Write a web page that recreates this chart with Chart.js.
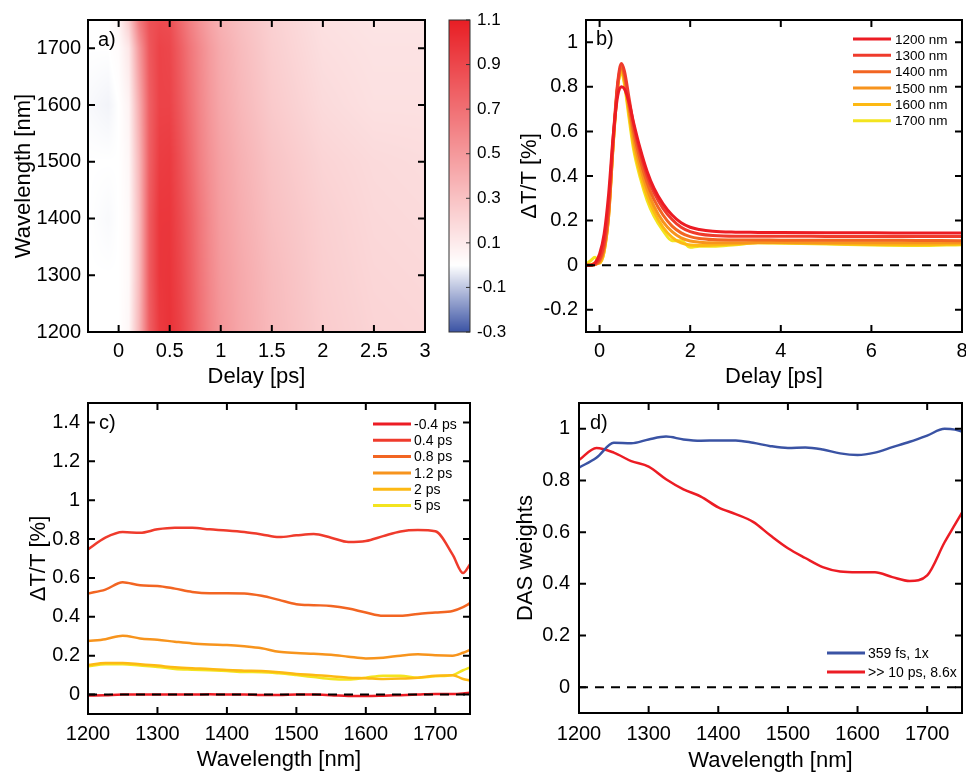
<!DOCTYPE html>
<html>
<head>
<meta charset="utf-8">
<script src="https://cdn.jsdelivr.net/npm/chart.js@4.4.1/dist/chart.umd.min.js"></script>
<style>
  body { margin: 0; background: #fff; width: 966px; height: 774px; overflow: hidden; position: relative; }
  .box { position: absolute; }
</style>
</head>
<body>
<div class="box" style="left:0;top:0;width:440px;height:390px"><canvas id="chartA"></canvas></div>
<div class="box" style="left:440px;top:0;width:80px;height:390px"><canvas id="chartBar"></canvas></div>
<div class="box" style="left:483px;top:0;width:483px;height:390px"><canvas id="chartB"></canvas></div>
<div class="box" style="left:0;top:390px;width:483px;height:384px"><canvas id="chartC"></canvas></div>
<div class="box" style="left:483px;top:390px;width:483px;height:384px"><canvas id="chartD"></canvas></div>
<script>
// ---------- a) map, delay x wavelength ----------
const hmDelay = [-0.3, -0.1, 0, 0.1, 0.2, 0.3, 0.4, 0.5, 0.6, 0.7, 0.8, 0.9, 1.0, 1.2, 1.5, 2.0, 2.5, 3.0];
const hmWave = [1200, 1300, 1400, 1500, 1600, 1700, 1750];
const hmValues = [
  [0, 0, 0, 0.04, 0.35, 0.78, 0.96, 1.0, 0.93, 0.82, 0.7, 0.6, 0.52, 0.43, 0.34, 0.25, 0.21, 0.2],
  [0, 0, 0, 0.03, 0.33, 0.8, 0.98, 0.99, 0.91, 0.8, 0.68, 0.58, 0.5, 0.42, 0.33, 0.24, 0.2, 0.19],
  [0, -0.01, 0, 0.03, 0.33, 0.8, 0.98, 0.98, 0.89, 0.78, 0.66, 0.56, 0.48, 0.4, 0.31, 0.23, 0.19, 0.18],
  [0, 0, 0, 0.04, 0.35, 0.78, 0.95, 0.96, 0.86, 0.74, 0.62, 0.53, 0.46, 0.38, 0.29, 0.21, 0.18, 0.17],
  [-0.01, -0.02, 0, 0.06, 0.4, 0.78, 0.92, 0.92, 0.82, 0.7, 0.59, 0.5, 0.43, 0.35, 0.26, 0.18, 0.15, 0.15],
  [0, 0, 0.02, 0.12, 0.5, 0.82, 0.92, 0.9, 0.79, 0.67, 0.57, 0.48, 0.41, 0.33, 0.24, 0.16, 0.14, 0.14],
  [0, 0, 0.05, 0.25, 0.65, 0.85, 0.88, 0.87, 0.74, 0.62, 0.52, 0.44, 0.38, 0.31, 0.23, 0.15, 0.13, 0.13]
];
const aDelayTicks = [0, 0.5, 1, 1.5, 2, 2.5, 3];
const aWaveTicks = [1200, 1300, 1400, 1500, 1600, 1700];
const barTicks = [-0.3, -0.1, 0.1, 0.3, 0.5, 0.7, 0.9, 1.1];

// ---------- b) kinetics ----------
const bLabels = ['1200 nm', '1300 nm', '1400 nm', '1500 nm', '1600 nm', '1700 nm'];
const bDelay = [-0.3, -0.2, -0.1, 0, 0.1, 0.2, 0.3, 0.4, 0.48, 0.55, 0.65, 0.75, 0.9, 1.05, 1.2, 1.4, 1.6, 1.8, 2.0, 2.2, 2.5, 3, 3.5, 4, 5, 6, 7, 8];
const b1200 = [0, 0, 0.01, 0.05, 0.14, 0.32, 0.58, 0.76, 0.80, 0.79, 0.73, 0.64, 0.52, 0.42, 0.345, 0.275, 0.225, 0.19, 0.17, 0.16, 0.152, 0.148, 0.147, 0.146, 0.145, 0.145, 0.144, 0.144];
const b1300 = [0, 0, 0.005, 0.03, 0.10, 0.27, 0.57, 0.82, 0.905, 0.87, 0.75, 0.63, 0.5, 0.4, 0.325, 0.255, 0.205, 0.17, 0.15, 0.14, 0.133, 0.13, 0.13, 0.13, 0.129, 0.128, 0.128, 0.128];
const b1400 = [0, 0, 0.003, 0.02, 0.08, 0.24, 0.55, 0.81, 0.895, 0.85, 0.72, 0.6, 0.47, 0.37, 0.295, 0.225, 0.175, 0.145, 0.128, 0.12, 0.115, 0.113, 0.113, 0.112, 0.112, 0.112, 0.111, 0.11];
const b1500 = [0, 0, 0.003, 0.015, 0.07, 0.22, 0.54, 0.80, 0.885, 0.84, 0.70, 0.57, 0.44, 0.34, 0.265, 0.195, 0.15, 0.122, 0.108, 0.103, 0.1, 0.1, 0.102, 0.102, 0.1, 0.1, 0.1, 0.1];
const b1600 = [0, 0, 0.01, 0.01, 0.06, 0.22, 0.54, 0.80, 0.875, 0.82, 0.68, 0.54, 0.41, 0.31, 0.24, 0.17, 0.125, 0.1, 0.09, 0.088, 0.09, 0.095, 0.1, 0.1, 0.097, 0.093, 0.092, 0.095];
const b1700 = [0.005, 0.02, 0.035, 0.01, 0.06, 0.23, 0.55, 0.80, 0.865, 0.81, 0.66, 0.52, 0.39, 0.29, 0.22, 0.155, 0.11, 0.11, 0.08, 0.085, 0.085, 0.092, 0.1, 0.098, 0.095, 0.09, 0.088, 0.092];
const bDelayTicks = [0, 2, 4, 6, 8];
const bTicks = [-0.2, 0, 0.2, 0.4, 0.6, 0.8, 1];

// ---------- c) spectra ----------
const cLabels = ['-0.4 ps', '0.4 ps', '0.8 ps', '1.2 ps', '2 ps', '5 ps'];
const cWave = [1200, 1225, 1250, 1275, 1300, 1325, 1350, 1375, 1400, 1425, 1450, 1475, 1500, 1525, 1550, 1575, 1600, 1625, 1650, 1675, 1700, 1725, 1740, 1750];
const cM04 = [-0.005, -0.003, 0, 0, 0, 0, 0, 0.001, 0, 0, -0.002, -0.002, 0, 0, -0.003, -0.007, -0.008, -0.006, -0.003, 0, 0.003, 0.003, 0.006, 0.01];
const c04 = [0.747, 0.807, 0.836, 0.832, 0.85, 0.858, 0.858, 0.85, 0.844, 0.836, 0.824, 0.81, 0.819, 0.826, 0.807, 0.785, 0.79, 0.815, 0.839, 0.846, 0.84, 0.72, 0.625, 0.67];
const c08 = [0.52, 0.54, 0.578, 0.562, 0.559, 0.545, 0.528, 0.521, 0.521, 0.52, 0.508, 0.487, 0.465, 0.46, 0.456, 0.443, 0.422, 0.405, 0.405, 0.415, 0.422, 0.43, 0.45, 0.47];
const c12 = [0.275, 0.285, 0.303, 0.289, 0.282, 0.272, 0.263, 0.258, 0.255, 0.248, 0.238, 0.22, 0.214, 0.21, 0.205, 0.195, 0.186, 0.19, 0.2, 0.207, 0.202, 0.2, 0.215, 0.23];
const c2 = [0.152, 0.162, 0.162, 0.156, 0.149, 0.14, 0.135, 0.132, 0.126, 0.123, 0.121, 0.115, 0.106, 0.101, 0.094, 0.087, 0.084, 0.08, 0.082, 0.087, 0.097, 0.1, 0.08, 0.072];
const c5 = [0.145, 0.156, 0.156, 0.149, 0.142, 0.132, 0.128, 0.125, 0.121, 0.116, 0.115, 0.109, 0.1, 0.09, 0.08, 0.077, 0.087, 0.097, 0.097, 0.087, 0.094, 0.1, 0.125, 0.14];
const cTicks = [0, 0.2, 0.4, 0.6, 0.8, 1, 1.2, 1.4];
const waveTicks = [1200, 1300, 1400, 1500, 1600, 1700];

// ---------- d) DAS ----------
const dLabels = ['359 fs, 1x', '>> 10 ps, 8.6x'];
const dFast = [0.85, 0.888, 0.946, 0.944, 0.959, 0.97, 0.959, 0.954, 0.955, 0.955, 0.946, 0.933, 0.926, 0.928, 0.92, 0.905, 0.899, 0.908, 0.929, 0.95, 0.974, 1.0, 0.997, 0.989];
const dSlow = [0.879, 0.926, 0.908, 0.875, 0.854, 0.805, 0.766, 0.738, 0.696, 0.67, 0.64, 0.587, 0.538, 0.5, 0.465, 0.448, 0.445, 0.445, 0.426, 0.411, 0.433, 0.561, 0.63, 0.676];
const dTicks = [0, 0.2, 0.4, 0.6, 0.8, 1];

const FONT = "'Liberation Sans', Arial, Helvetica, sans-serif";
Chart.defaults.font.family = FONT;
Chart.defaults.color = '#000';

const warm = ['#ec1c24', '#ef3b2c', '#f26522', '#f7941d', '#fdb913', '#f3e41f'];

function fmt(v) { return String(Math.round(v * 100) / 100); }

function axis(o) {
  return {
    type: 'linear', position: o.position, min: o.min, max: o.max, display: o.display !== false,
    grid: { display: false, drawTicks: false, tickLength: 0 }, border: { display: false },
    afterBuildTicks: s => { s.ticks = o.ticks.map(v => ({ value: v })); },
    afterFit: s => {
      if (s.isHorizontal()) s.height = o.size; else s.width = o.size;
      s.paddingLeft = s.paddingRight = s.paddingTop = s.paddingBottom = 0;
    },
    ticks: { padding: o.pad, font: { size: o.fontSize || 20 }, callback: fmt, maxRotation: 0, autoSkip: false },
    title: o.title ? { display: true, text: o.title, font: { size: 22 }, padding: o.titlePad } : { display: false }
  };
}

function xy(xs, ys) { return xs.map((x, i) => ({ x: x, y: ys[i] })); }

function line(label, xs, ys, color, width) {
  return { label: label, data: xy(xs, ys), borderColor: color, borderWidth: width, pointRadius: 0,
           fill: false, cubicInterpolationMode: 'monotone' };
}

function zeroLine(x0, x1) {
  return { label: '', zero: true, data: [{ x: x0, y: 0 }, { x: x1, y: 0 }], borderColor: '#000',
           borderWidth: 2, borderDash: [9, 7], pointRadius: 0, order: -1 };
}

// box with inward ticks on all sides
const frame = {
  id: 'frame',
  afterDraw(chart, args, o) {
    const { ctx, chartArea: a, scales } = chart;
    ctx.save();
    ctx.strokeStyle = o.color || '#000';
    ctx.lineWidth = o.width || 2;
    ctx.strokeRect(a.left, a.top, a.right - a.left, a.bottom - a.top);
    ctx.beginPath();
    const L = o.len || 7;
    if (o.xTicks !== false) {
      scales.x.ticks.forEach(t => {
        const p = scales.x.getPixelForValue(t.value);
        ctx.moveTo(p, a.bottom); ctx.lineTo(p, a.bottom - L);
        ctx.moveTo(p, a.top); ctx.lineTo(p, a.top + L);
      });
    }
    scales.y.ticks.forEach(t => {
      const p = scales.y.getPixelForValue(t.value);
      if (o.leftTicks !== false) { ctx.moveTo(a.left, p); ctx.lineTo(a.left + L, p); }
      ctx.moveTo(a.right, p); ctx.lineTo(a.right - L, p);
    });
    ctx.stroke();
    if (o.tag) {
      ctx.fillStyle = '#000';
      ctx.font = '20px ' + FONT;
      ctx.textBaseline = 'middle';
      ctx.fillText(o.tag, a.left + o.tagX, a.top + o.tagY);
    }
    ctx.restore();
  }
};

// legend drawn inside the plot
const keyBox = {
  id: 'keyBox',
  afterDraw(chart, args, o) {
    if (!o.x) return;
    const { ctx, chartArea: a } = chart;
    ctx.save();
    ctx.font = o.size + 'px ' + FONT;
    ctx.textBaseline = 'middle';
    let row = 0;
    chart.data.datasets.forEach(ds => {
      if (ds.zero) return;
      const y = a.top + o.y + row * o.dy;
      const x = a.right + o.x;
      ctx.strokeStyle = ds.borderColor;
      ctx.lineWidth = 3;
      ctx.beginPath(); ctx.moveTo(x, y); ctx.lineTo(x + 38, y); ctx.stroke();
      ctx.fillStyle = '#000';
      ctx.fillText(ds.label, x + 38 + o.gap, y + 1);
      row++;
    });
    ctx.restore();
  }
};

function cmap(v) {
  if (v >= 0) {
    const t = Math.min(v / 1.1, 1);
    return [255 - t * 23, 255 - t * 225, 255 - t * 219];
  }
  const t = Math.min(-v / 0.3, 1);
  return [255 - t * 196, 255 - t * 172, 255 - t * 91];
}

function locate(arr, v) {
  if (v <= arr[0]) return [0, 0, 0];
  for (let i = 1; i < arr.length; i++) {
    if (v <= arr[i]) return [i - 1, i, (v - arr[i - 1]) / (arr[i] - arr[i - 1])];
  }
  return [arr.length - 1, arr.length - 1, 0];
}

const heatmap = {
  id: 'heatmap',
  beforeDatasetsDraw(chart) {
    const { ctx, chartArea: ca, scales: { x, y } } = chart;
    const left = Math.round(ca.left), top = Math.round(ca.top);
    const w = Math.round(ca.right) - left, h = Math.round(ca.bottom) - top;
    const img = ctx.createImageData(w, h);
    for (let j = 0; j < h; j++) {
      const [r0, r1, fr] = locate(hmWave, y.getValueForPixel(top + j + 0.5));
      for (let i = 0; i < w; i++) {
        const [c0, c1, fc] = locate(hmDelay, x.getValueForPixel(left + i + 0.5));
        const v0 = hmValues[r0][c0] * (1 - fc) + hmValues[r0][c1] * fc;
        const v1 = hmValues[r1][c0] * (1 - fc) + hmValues[r1][c1] * fc;
        const c = cmap(v0 * (1 - fr) + v1 * fr);
        const k = (j * w + i) * 4;
        img.data[k] = c[0]; img.data[k + 1] = c[1]; img.data[k + 2] = c[2]; img.data[k + 3] = 255;
      }
    }
    ctx.putImageData(img, left, top);
  }
};

const colorBar = {
  id: 'colorBar',
  beforeDatasetsDraw(chart) {
    const { ctx, chartArea: ca, scales: { y } } = chart;
    for (let p = Math.floor(ca.top); p < ca.bottom; p++) {
      const c = cmap(y.getValueForPixel(p + 0.5));
      ctx.fillStyle = 'rgb(' + c.map(Math.round).join(',') + ')';
      ctx.fillRect(ca.left, p, ca.right - ca.left, 1);
    }
  }
};

function baseOptions(scales, padding, plugins) {
  return {
    responsive: true, maintainAspectRatio: false, animation: false, events: [],
    layout: { padding: padding },
    scales: scales,
    plugins: Object.assign({ legend: { display: false }, tooltip: { enabled: false } }, plugins)
  };
}

// a)
new Chart(document.getElementById('chartA'), {
  type: 'line',
  data: { datasets: [] },
  options: baseOptions({
    x: axis({ position: 'bottom', min: -0.3, max: 3, ticks: aDelayTicks, size: 58, pad: 7,
              title: 'Delay [ps]', titlePad: { top: 0, bottom: 0 } }),
    y: axis({ position: 'left', min: 1200, max: 1750, ticks: aWaveTicks, size: 88, pad: 7,
              title: 'Wavelength [nm]', titlePad: { top: 11, bottom: 0 } })
  }, { top: 20, right: 15 }, { frame: { tag: 'a)', tagX: 10, tagY: 20 } }),
  plugins: [heatmap, frame]
});

// colour bar
new Chart(document.getElementById('chartBar'), {
  type: 'line',
  data: { datasets: [] },
  options: baseOptions({
    x: axis({ position: 'bottom', min: 0, max: 1, ticks: [], size: 0, pad: 0, display: false }),
    y: axis({ position: 'right', min: -0.3, max: 1.1, ticks: barTicks, size: 50, pad: 7, fontSize: 17 })
  }, { top: 20, left: 9, bottom: 58 }, { frame: { color: '#333', width: 1, len: 4, xTicks: false, leftTicks: false } }),
  plugins: [colorBar, frame]
});

// b)
const bSeries = [b1200, b1300, b1400, b1500, b1600, b1700];
new Chart(document.getElementById('chartB'), {
  type: 'line',
  data: { datasets: [zeroLine(-0.3, 8)].concat(bSeries.map((s, i) => line(bLabels[i], bDelay, s, warm[i], 3))) },
  options: baseOptions({
    x: axis({ position: 'bottom', min: -0.3, max: 8, ticks: bDelayTicks, size: 58, pad: 7,
              title: 'Delay [ps]', titlePad: { top: 0, bottom: 0 } }),
    y: axis({ position: 'left', min: -0.3, max: 1.1, ticks: bTicks, size: 103, pad: 8,
              title: '\u0394T/T [%]', titlePad: { top: 34, bottom: 0 } })
  }, { top: 20, right: 4 }, {
    frame: { tag: 'b)', tagX: 10, tagY: 19 },
    keyBox: { x: -109, y: 19, dy: 16.35, size: 13.5, gap: 4 }
  }),
  plugins: [frame, keyBox]
});

// c)
const cSeries = [cM04, c04, c08, c12, c2, c5];
const cColors = ['#ec1c24', '#ef3b2c', '#f26522', '#f7941d', '#fdb913', '#f3e41f'];
new Chart(document.getElementById('chartC'), {
  type: 'line',
  data: { datasets: [zeroLine(1200, 1750)].concat(cSeries.map((s, i) => line(cLabels[i], cWave, s, cColors[i], 2.5))) },
  options: baseOptions({
    x: axis({ position: 'bottom', min: 1200, max: 1750, ticks: waveTicks, size: 60, pad: 8,
              title: 'Wavelength [nm]', titlePad: { top: 0, bottom: 1 } }),
    y: axis({ position: 'left', min: -0.1, max: 1.5, ticks: cTicks, size: 88, pad: 8,
              title: '\u0394T/T [%]', titlePad: { top: 26, bottom: 0 } })
  }, { top: 13, right: 13 }, {
    frame: { tag: 'c)', tagX: 11, tagY: 20 },
    keyBox: { x: -97, y: 21, dy: 16.3, size: 14, gap: 3 }
  }),
  plugins: [frame, keyBox]
});

// d)
new Chart(document.getElementById('chartD'), {
  type: 'line',
  data: { datasets: [zeroLine(1200, 1750), line(dLabels[0], cWave, dFast, '#3a53a4', 2.5), line(dLabels[1], cWave, dSlow, '#ec1c24', 2.5)] },
  options: baseOptions({
    x: axis({ position: 'bottom', min: 1200, max: 1750, ticks: waveTicks, size: 61, pad: 9,
              title: 'Wavelength [nm]', titlePad: { top: 0, bottom: 0 } }),
    y: axis({ position: 'left', min: -0.1, max: 1.1, ticks: dTicks, size: 96, pad: 9,
              title: 'DAS weights', titlePad: { top: 30, bottom: 0 } })
  }, { top: 13, right: 4 }, {
    frame: { tag: 'd)', tagX: 11, tagY: 20 },
    keyBox: { x: -135, y: 250, dy: 19, size: 14, gap: 3 }
  }),
  plugins: [frame, keyBox]
});
</script>
</body>
</html>
